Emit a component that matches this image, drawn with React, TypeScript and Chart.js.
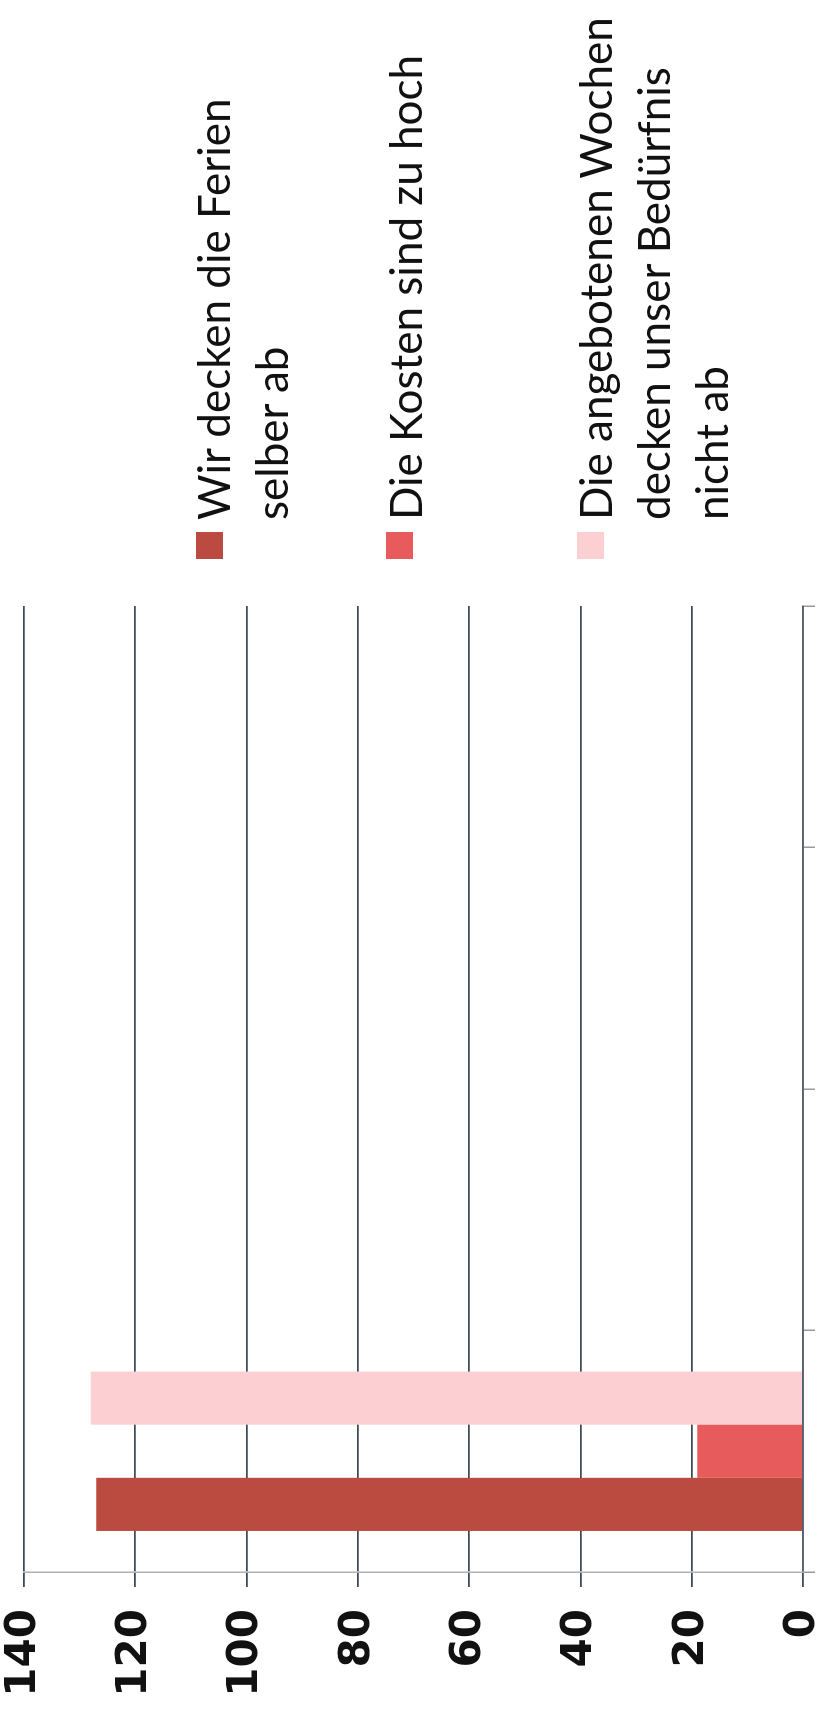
import React, { useEffect, useRef } from 'react';
import { Chart, registerables } from 'chart.js';

Chart.register(...registerables);

// ---- data ----
const categories = ['', '', '', ''];
const seriesNames = [
  ['Wir decken die Ferien', 'selber ab'],
  ['Die Kosten sind zu hoch'],
  ['Die angebotenen Wochen', 'decken unser Bedürfnis', 'nicht ab'],
];
const selberAb = [127, 0, 0, 0];
const kostenZuHoch = [19, 0, 0, 0];
const wochenNichtAb = [128, 0, 0, 0];
const seriesColors = ['#bb4a40', '#e85b5c', '#fcd0d2'];
const valueTicks = [0, 20, 40, 60, 80, 100, 120, 140];

// ---- layout (unrotated frame 1709 x 827) ----
const W = 1709;
const H = 827;
const legendBlockTops = [184, 376, 566];
const legendSquareTops = [196, 386, 577];

export default function App() {
  const canvasRef = useRef<HTMLCanvasElement | null>(null);

  useEffect(() => {
    const canvas = canvasRef.current;
    if (!canvas) return;
    const values = [selberAb, kostenZuHoch, wochenNichtAb];
    const chart = new Chart(canvas, {
      type: 'bar',
      data: {
        labels: categories,
        datasets: values.map((d, i) => ({
          label: seriesNames[i].join(' '),
          data: d,
          backgroundColor: seriesColors[i],
          borderWidth: 0,
          categoryPercentage: 0.66,
          barPercentage: 1,
        })),
      },
      options: {
        animation: false,
        responsive: false,
        devicePixelRatio: 1,
        layout: { padding: { left: 0, right: 606, top: 24, bottom: 12 } },
        plugins: {
          legend: { display: false },
          tooltip: { enabled: false },
          title: { display: false },
        },
        scales: {
          x: {
            type: 'category',
            offset: true,
            grid: {
              display: true,
              offset: true,
              drawOnChartArea: false,
              drawTicks: true,
              tickLength: 12,
              color: '#9a9a9a',
              lineWidth: 1.5,
            },
            border: { display: true, color: '#55606c', width: 1.5 },
            ticks: { display: false },
          },
          y: {
            min: valueTicks[0],
            max: valueTicks[valueTicks.length - 1],
            afterFit: (scale: any) => {
              scale.width = 137;
              scale.paddingTop = 0;
              scale.paddingBottom = 0;
            },
            ticks: {
              stepSize: valueTicks[1] - valueTicks[0],
              padding: 22,
              color: '#111111',
              font: { family: 'DejaVu Sans', weight: 'bold', size: 42 },
            },
            grid: {
              color: '#3f4a59',
              lineWidth: 1.8,
              tickLength: 15,
              drawTicks: true,
            },
            border: { display: true, color: '#b0b0b0', width: 1.5 },
          },
        },
      },
    });
    return () => {
      chart.destroy();
    };
  }, []);

  return (
    <div
      style={{
        position: 'absolute',
        left: 0,
        top: 0,
        width: H,
        height: W,
        overflow: 'hidden',
        background: '#ffffff',
      }}
    >
      <div
        style={{
          position: 'absolute',
          left: 0,
          top: 0,
          width: W,
          height: H,
          transformOrigin: '0 0',
          transform: `translateY(${W}px) rotate(-90deg)`,
        }}
      >
        <canvas
          ref={canvasRef}
          width={W}
          height={H}
          style={{ display: 'block', width: W, height: H }}
        />
        {seriesNames.map((lines, i) => (
          <React.Fragment key={i}>
            <div
              style={{
                position: 'absolute',
                left: 1150,
                top: legendSquareTops[i],
                width: 27,
                height: 27,
                background: seriesColors[i],
              }}
            />
            <div
              style={{
                position: 'absolute',
                left: 1189,
                top: legendBlockTops[i],
                fontFamily: 'Lato, sans-serif',
                fontSize: 44,
                lineHeight: '58px',
                color: '#111111',
                whiteSpace: 'nowrap',
              }}
            >
              {lines.map((l, j) => (
                <div key={j}>{l}</div>
              ))}
            </div>
          </React.Fragment>
        ))}
      </div>
    </div>
  );
}
